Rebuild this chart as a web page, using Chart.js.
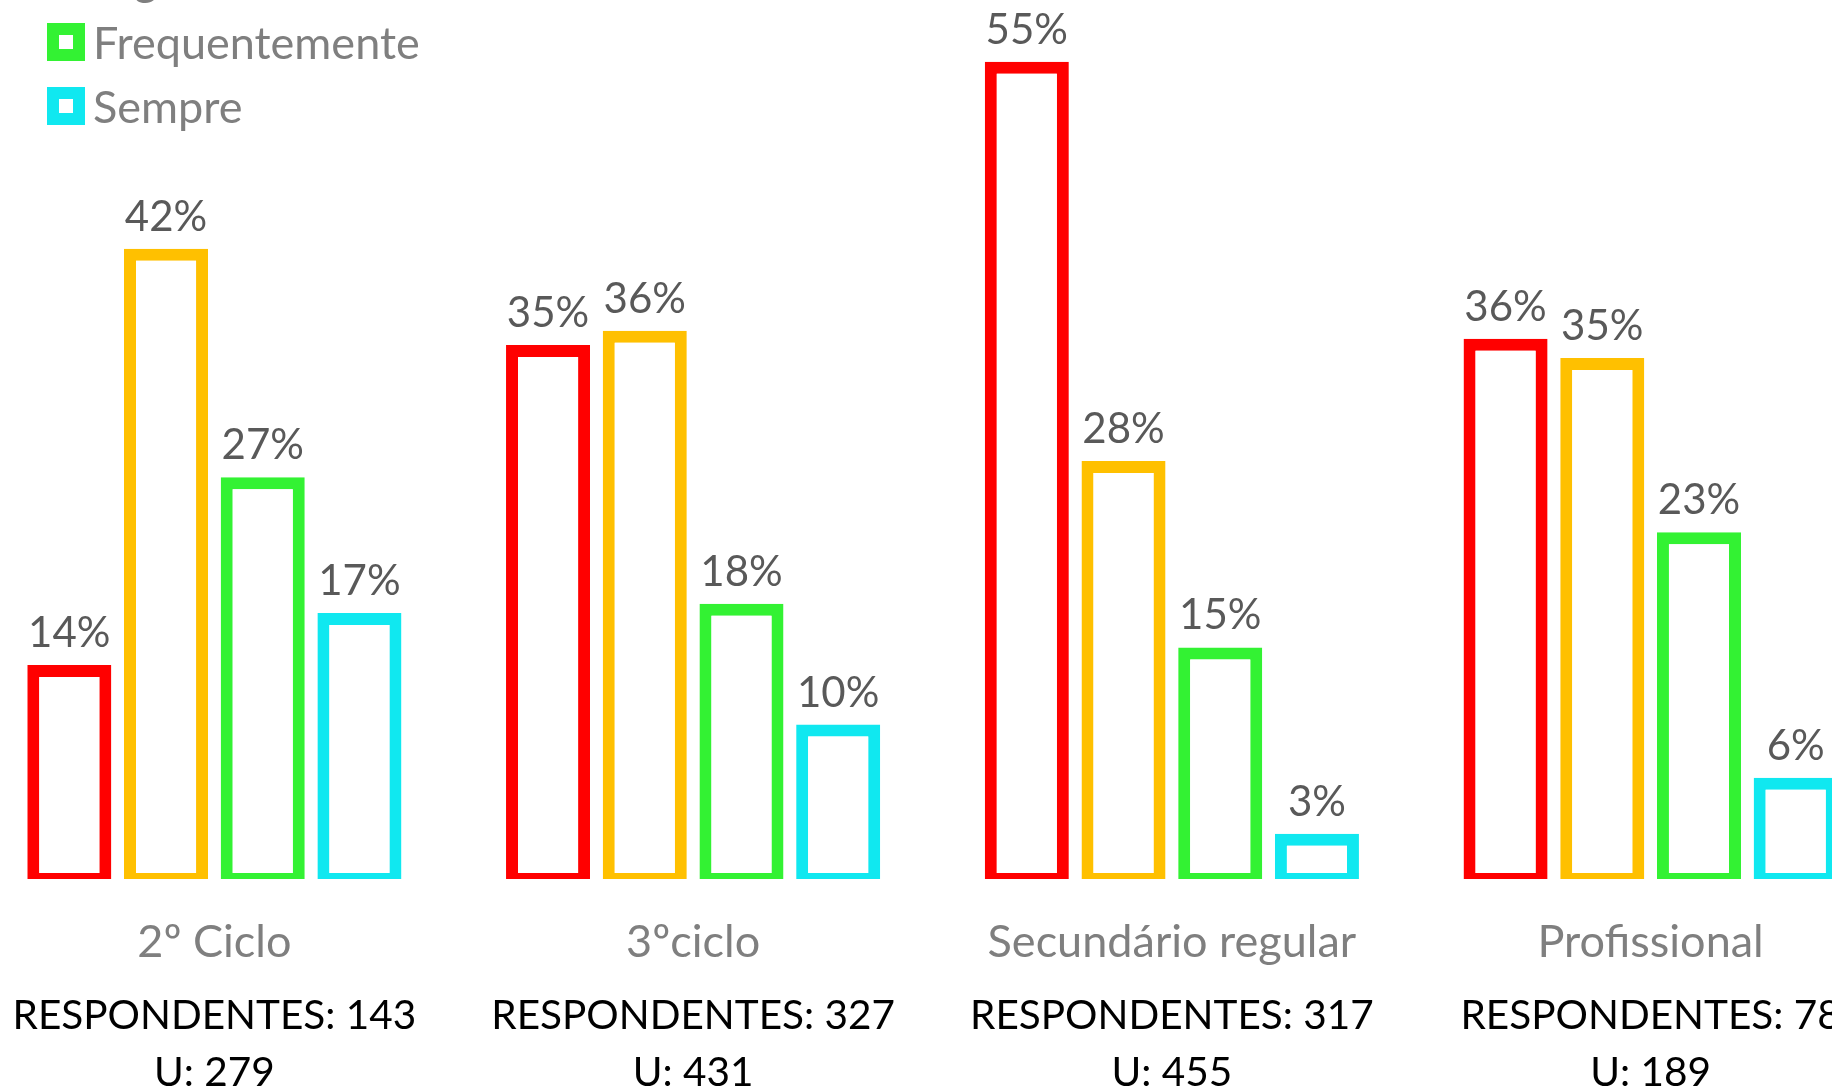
<!DOCTYPE html>
<html>
<head>
<meta charset="utf-8">
<script src="https://cdn.jsdelivr.net/npm/chart.js@4.4.1/dist/chart.umd.min.js"></script>
<style>
  html, body {
    margin: 0;
    width: 1832px;
    height: 1091px;
    overflow: hidden;
    background: #fff;
  }
  #chart {
    position: absolute;
    left: -45px;
    top: -40px;
  }
  #legend {
    position: absolute;
    left: 47px;
    top: -105px;
    font-family: Lato, sans-serif;
    font-size: 45px;
    color: #7f7f7f;
  }
  .legend-item {
    display: flex;
    align-items: center;
    height: 38px;
    margin-bottom: 26px;
    white-space: nowrap;
  }
  .legend-box {
    width: 14px;
    height: 14px;
    border: 12px solid;
    background: #fff;
    margin-right: 8px;
  }
</style>
</head>
<body>
<canvas id="chart" width="1955" height="1155"></canvas>
<div id="legend"></div>
<script>
const categories = ["2º Ciclo", "3ºciclo", "Secundário regular", "Profissional"];
const seriesNames = ["Nunca", "Algumas vezes", "Frequentemente", "Sempre"];

// percentages per level
const nunca = [13.98, 35.47, 54.51, 35.9];
const algumasVezes = [41.94, 36.43, 27.69, 34.6];
const frequentemente = [26.6, 18.1, 15.16, 22.9];
const sempre = [17.47, 9.98, 2.64, 6.4];

const respondentes = [143, 327, 317, 78];
const unidades = [279, 431, 455, 189];

const colors = ["#FF0000", "#FFC000", "#33F233", "#10E8F0"];

// Excel draws the 12px outline centred on the bar edge, so the top sits
// about half a stroke above the value; a small negative base mimics that.
const strokeOffset = 0.4;

const fontFamily = "Lato, sans-serif";

const respLabels = respondentes.map((r, i) => [
  "RESPONDENTES: " + r,
  "U: " + unidades[i],
]);

const series = [nunca, algumasVezes, frequentemente, sempre];

const datasets = series.map((values, i) => ({
  label: seriesNames[i],
  data: values,
  backgroundColor: "#ffffff",
  borderColor: colors[i],
  borderWidth: { top: 12, left: 12, right: 12, bottom: 6 },
  borderSkipped: false,
  base: -strokeOffset,
  categoryPercentage: 0.808,
  barPercentage: 0.869,
}));

const barValueLabels = {
  id: "barValueLabels",
  afterDatasetsDraw(chart) {
    const { ctx } = chart;
    ctx.save();
    ctx.font = "42px " + fontFamily;
    ctx.fillStyle = "#595959";
    ctx.textAlign = "center";
    ctx.textBaseline = "alphabetic";
    chart.data.datasets.forEach((ds, i) => {
      chart.getDatasetMeta(i).data.forEach((bar, j) => {
        ctx.fillText(Math.round(ds.data[j]) + "%", bar.x, bar.y - 18);
      });
    });
    ctx.restore();
  },
};

const legendEl = document.getElementById("legend");
seriesNames.forEach((name, i) => {
  const item = document.createElement("div");
  item.className = "legend-item";
  const box = document.createElement("span");
  box.className = "legend-box";
  box.style.borderColor = colors[i];
  const text = document.createElement("span");
  text.textContent = name;
  item.appendChild(box);
  item.appendChild(text);
  legendEl.appendChild(item);
});

// invisible tick marks, only used as spacing under the bars
const hiddenGrid = {
  display: true,
  drawOnChartArea: false,
  drawTicks: true,
  color: "rgba(0,0,0,0)",
};

new Chart(document.getElementById("chart").getContext("2d"), {
  type: "bar",
  data: {
    labels: categories,
    datasets,
  },
  options: {
    responsive: false,
    animation: false,
    layout: {
      padding: { left: 20, right: 20, top: 20, bottom: 10 },
    },
    plugins: {
      legend: { display: false },
      tooltip: { enabled: false },
    },
    scales: {
      y: {
        display: false,
        min: -strokeOffset,
        max: 60,
      },
      x: {
        weight: 0,
        grid: { ...hiddenGrid, tickLength: 22 },
        border: { display: false },
        ticks: {
          color: "#7f7f7f",
          padding: 14,
          font: { family: fontFamily, size: 45, lineHeight: "54px" },
          maxRotation: 0,
          autoSkip: false,
        },
      },
      x2: {
        type: "category",
        position: "bottom",
        weight: 1,
        offset: true,
        labels: respLabels,
        grid: { display: false, drawTicks: false },
        border: { display: false },
        ticks: {
          color: "#000000",
          padding: 4,
          font: { family: fontFamily, size: 40.5, lineHeight: "57px" },
          maxRotation: 0,
          autoSkip: false,
        },
      },
    },
  },
  plugins: [barValueLabels],
});
</script>
</body>
</html>
